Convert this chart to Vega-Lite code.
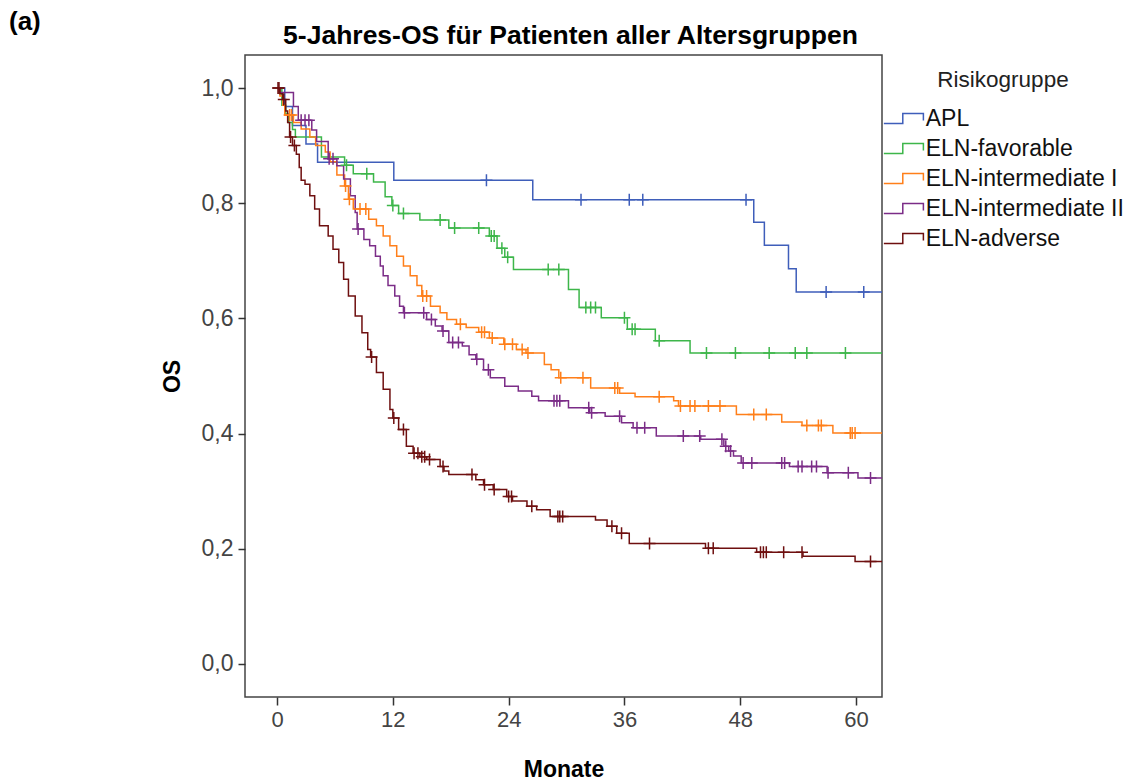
{
"$schema":"https://vega.github.io/schema/vega-lite/v6.json",
"width":637,"height":642,
"autosize":"none",
"padding":{"left":245,"top":55,"right":248,"bottom":87},
"background":"white",
"config":{"view":{"stroke":"#444","strokeWidth":1.5},"font":"Liberation Sans"},
"title":{"text":"(a)","anchor":"start","frame":"group","dx":-236,"dy":17,"fontSize":26,"fontWeight":"bold","color":"#000"},
"data":{"values":[
{"g":"APL","t":0,"s":1,"c":0},{"g":"APL","t":0.8,"s":0.968,"c":0},{"g":"APL","t":1.6,"s":0.935,"c":0},{"g":"APL","t":3.0,"s":0.903,"c":0},{"g":"APL","t":4.2,"s":0.871,"c":0},{"g":"APL","t":12.1,"s":0.84,"c":0},{"g":"APL","t":26.5,"s":0.806,"c":0},{"g":"APL","t":49.4,"s":0.767,"c":0},{"g":"APL","t":50.5,"s":0.727,"c":0},{"g":"APL","t":53.0,"s":0.686,"c":0},{"g":"APL","t":53.8,"s":0.646,"c":0},{"g":"APL","t":62.7,"s":0.646,"c":0},
{"g":"APL","t":21.7,"s":0.84,"c":1},{"g":"APL","t":31.5,"s":0.806,"c":1},{"g":"APL","t":36.5,"s":0.806,"c":1},{"g":"APL","t":37.9,"s":0.806,"c":1},{"g":"APL","t":48.6,"s":0.806,"c":1},{"g":"APL","t":56.9,"s":0.646,"c":1},{"g":"APL","t":60.8,"s":0.646,"c":1},
{"g":"ELN-favorable","t":0,"s":1,"c":0},{"g":"ELN-favorable","t":0.5,"s":0.97,"c":0},{"g":"ELN-favorable","t":0.9,"s":0.955,"c":0},{"g":"ELN-favorable","t":1.2,"s":0.94,"c":0},{"g":"ELN-favorable","t":1.6,"s":0.928,"c":0},{"g":"ELN-favorable","t":1.9,"s":0.915,"c":0},{"g":"ELN-favorable","t":4.6,"s":0.88,"c":0},{"g":"ELN-favorable","t":7.0,"s":0.866,"c":0},{"g":"ELN-favorable","t":7.9,"s":0.851,"c":0},{"g":"ELN-favorable","t":10.0,"s":0.837,"c":0},{"g":"ELN-favorable","t":11.2,"s":0.811,"c":0},{"g":"ELN-favorable","t":11.9,"s":0.796,"c":0},{"g":"ELN-favorable","t":12.6,"s":0.782,"c":0},{"g":"ELN-favorable","t":14.8,"s":0.771,"c":0},{"g":"ELN-favorable","t":17.8,"s":0.757,"c":0},{"g":"ELN-favorable","t":22.0,"s":0.743,"c":0},{"g":"ELN-favorable","t":22.8,"s":0.722,"c":0},{"g":"ELN-favorable","t":23.6,"s":0.706,"c":0},{"g":"ELN-favorable","t":24.5,"s":0.685,"c":0},{"g":"ELN-favorable","t":30.2,"s":0.65,"c":0},{"g":"ELN-favorable","t":31.3,"s":0.619,"c":0},{"g":"ELN-favorable","t":33.6,"s":0.601,"c":0},{"g":"ELN-favorable","t":36.3,"s":0.581,"c":0},{"g":"ELN-favorable","t":39.2,"s":0.561,"c":0},{"g":"ELN-favorable","t":42.8,"s":0.54,"c":0},{"g":"ELN-favorable","t":62.7,"s":0.54,"c":0},
{"g":"ELN-favorable","t":7.2,"s":0.866,"c":1},{"g":"ELN-favorable","t":9.3,"s":0.851,"c":1},{"g":"ELN-favorable","t":12.0,"s":0.796,"c":1},{"g":"ELN-favorable","t":13.1,"s":0.782,"c":1},{"g":"ELN-favorable","t":16.9,"s":0.771,"c":1},{"g":"ELN-favorable","t":18.4,"s":0.757,"c":1},{"g":"ELN-favorable","t":20.9,"s":0.757,"c":1},{"g":"ELN-favorable","t":22.2,"s":0.743,"c":1},{"g":"ELN-favorable","t":22.5,"s":0.743,"c":1},{"g":"ELN-favorable","t":23.3,"s":0.722,"c":1},{"g":"ELN-favorable","t":23.9,"s":0.706,"c":1},{"g":"ELN-favorable","t":28.1,"s":0.685,"c":1},{"g":"ELN-favorable","t":29.2,"s":0.685,"c":1},{"g":"ELN-favorable","t":32.0,"s":0.619,"c":1},{"g":"ELN-favorable","t":32.5,"s":0.619,"c":1},{"g":"ELN-favorable","t":33.0,"s":0.619,"c":1},{"g":"ELN-favorable","t":36.0,"s":0.601,"c":1},{"g":"ELN-favorable","t":36.8,"s":0.581,"c":1},{"g":"ELN-favorable","t":37.1,"s":0.581,"c":1},{"g":"ELN-favorable","t":39.6,"s":0.561,"c":1},{"g":"ELN-favorable","t":44.5,"s":0.54,"c":1},{"g":"ELN-favorable","t":47.5,"s":0.54,"c":1},{"g":"ELN-favorable","t":51.0,"s":0.54,"c":1},{"g":"ELN-favorable","t":53.7,"s":0.54,"c":1},{"g":"ELN-favorable","t":54.9,"s":0.54,"c":1},{"g":"ELN-favorable","t":58.9,"s":0.54,"c":1},
{"g":"ELN-intermediate I","t":0,"s":1,"c":0},{"g":"ELN-intermediate I","t":0.3,"s":0.986,"c":0},{"g":"ELN-intermediate I","t":0.6,"s":0.97,"c":0},{"g":"ELN-intermediate I","t":0.8,"s":0.953,"c":0},{"g":"ELN-intermediate I","t":1.7,"s":0.94,"c":0},{"g":"ELN-intermediate I","t":2.5,"s":0.929,"c":0},{"g":"ELN-intermediate I","t":3.4,"s":0.915,"c":0},{"g":"ELN-intermediate I","t":4.0,"s":0.9,"c":0},{"g":"ELN-intermediate I","t":5.0,"s":0.889,"c":0},{"g":"ELN-intermediate I","t":5.5,"s":0.872,"c":0},{"g":"ELN-intermediate I","t":6.2,"s":0.849,"c":0},{"g":"ELN-intermediate I","t":7.0,"s":0.83,"c":0},{"g":"ELN-intermediate I","t":7.4,"s":0.807,"c":0},{"g":"ELN-intermediate I","t":7.9,"s":0.79,"c":0},{"g":"ELN-intermediate I","t":9.5,"s":0.772,"c":0},{"g":"ELN-intermediate I","t":10.3,"s":0.761,"c":0},{"g":"ELN-intermediate I","t":11.0,"s":0.743,"c":0},{"g":"ELN-intermediate I","t":11.7,"s":0.726,"c":0},{"g":"ELN-intermediate I","t":12.4,"s":0.708,"c":0},{"g":"ELN-intermediate I","t":13.1,"s":0.691,"c":0},{"g":"ELN-intermediate I","t":13.8,"s":0.674,"c":0},{"g":"ELN-intermediate I","t":14.5,"s":0.657,"c":0},{"g":"ELN-intermediate I","t":15.0,"s":0.639,"c":0},{"g":"ELN-intermediate I","t":15.9,"s":0.621,"c":0},{"g":"ELN-intermediate I","t":16.9,"s":0.61,"c":0},{"g":"ELN-intermediate I","t":17.6,"s":0.598,"c":0},{"g":"ELN-intermediate I","t":18.6,"s":0.59,"c":0},{"g":"ELN-intermediate I","t":19.6,"s":0.584,"c":0},{"g":"ELN-intermediate I","t":20.9,"s":0.576,"c":0},{"g":"ELN-intermediate I","t":22.0,"s":0.566,"c":0},{"g":"ELN-intermediate I","t":23.5,"s":0.555,"c":0},{"g":"ELN-intermediate I","t":24.8,"s":0.546,"c":0},{"g":"ELN-intermediate I","t":25.8,"s":0.54,"c":0},{"g":"ELN-intermediate I","t":27.7,"s":0.52,"c":0},{"g":"ELN-intermediate I","t":28.4,"s":0.511,"c":0},{"g":"ELN-intermediate I","t":29.2,"s":0.497,"c":0},{"g":"ELN-intermediate I","t":32.5,"s":0.479,"c":0},{"g":"ELN-intermediate I","t":35.5,"s":0.47,"c":0},{"g":"ELN-intermediate I","t":37.1,"s":0.464,"c":0},{"g":"ELN-intermediate I","t":41.1,"s":0.457,"c":0},{"g":"ELN-intermediate I","t":41.6,"s":0.448,"c":0},{"g":"ELN-intermediate I","t":47.6,"s":0.433,"c":0},{"g":"ELN-intermediate I","t":52.3,"s":0.42,"c":0},{"g":"ELN-intermediate I","t":54.4,"s":0.414,"c":0},{"g":"ELN-intermediate I","t":57.6,"s":0.401,"c":0},{"g":"ELN-intermediate I","t":62.7,"s":0.401,"c":0},
{"g":"ELN-intermediate I","t":1.3,"s":0.953,"c":1},{"g":"ELN-intermediate I","t":1.5,"s":0.953,"c":1},{"g":"ELN-intermediate I","t":7.1,"s":0.83,"c":1},{"g":"ELN-intermediate I","t":7.5,"s":0.807,"c":1},{"g":"ELN-intermediate I","t":8.6,"s":0.79,"c":1},{"g":"ELN-intermediate I","t":9.2,"s":0.79,"c":1},{"g":"ELN-intermediate I","t":15.1,"s":0.639,"c":1},{"g":"ELN-intermediate I","t":15.5,"s":0.639,"c":1},{"g":"ELN-intermediate I","t":19.0,"s":0.59,"c":1},{"g":"ELN-intermediate I","t":21.2,"s":0.576,"c":1},{"g":"ELN-intermediate I","t":21.5,"s":0.576,"c":1},{"g":"ELN-intermediate I","t":22.3,"s":0.566,"c":1},{"g":"ELN-intermediate I","t":23.6,"s":0.555,"c":1},{"g":"ELN-intermediate I","t":24.4,"s":0.555,"c":1},{"g":"ELN-intermediate I","t":25.4,"s":0.546,"c":1},{"g":"ELN-intermediate I","t":26.0,"s":0.54,"c":1},{"g":"ELN-intermediate I","t":29.4,"s":0.497,"c":1},{"g":"ELN-intermediate I","t":31.7,"s":0.497,"c":1},{"g":"ELN-intermediate I","t":35.0,"s":0.479,"c":1},{"g":"ELN-intermediate I","t":35.3,"s":0.479,"c":1},{"g":"ELN-intermediate I","t":39.6,"s":0.464,"c":1},{"g":"ELN-intermediate I","t":41.8,"s":0.448,"c":1},{"g":"ELN-intermediate I","t":42.8,"s":0.448,"c":1},{"g":"ELN-intermediate I","t":43.3,"s":0.448,"c":1},{"g":"ELN-intermediate I","t":44.7,"s":0.448,"c":1},{"g":"ELN-intermediate I","t":45.9,"s":0.448,"c":1},{"g":"ELN-intermediate I","t":49.4,"s":0.433,"c":1},{"g":"ELN-intermediate I","t":50.7,"s":0.433,"c":1},{"g":"ELN-intermediate I","t":54.9,"s":0.414,"c":1},{"g":"ELN-intermediate I","t":56.1,"s":0.414,"c":1},{"g":"ELN-intermediate I","t":56.4,"s":0.414,"c":1},{"g":"ELN-intermediate I","t":59.4,"s":0.401,"c":1},{"g":"ELN-intermediate I","t":59.6,"s":0.401,"c":1},{"g":"ELN-intermediate I","t":59.9,"s":0.401,"c":1},
{"g":"ELN-intermediate II","t":0,"s":1,"c":0},{"g":"ELN-intermediate II","t":0.3,"s":0.992,"c":0},{"g":"ELN-intermediate II","t":1.7,"s":0.968,"c":0},{"g":"ELN-intermediate II","t":2.2,"s":0.944,"c":0},{"g":"ELN-intermediate II","t":3.6,"s":0.927,"c":0},{"g":"ELN-intermediate II","t":4.1,"s":0.907,"c":0},{"g":"ELN-intermediate II","t":5.3,"s":0.877,"c":0},{"g":"ELN-intermediate II","t":6.2,"s":0.865,"c":0},{"g":"ELN-intermediate II","t":6.9,"s":0.842,"c":0},{"g":"ELN-intermediate II","t":7.6,"s":0.813,"c":0},{"g":"ELN-intermediate II","t":8.1,"s":0.784,"c":0},{"g":"ELN-intermediate II","t":8.3,"s":0.755,"c":0},{"g":"ELN-intermediate II","t":9.0,"s":0.737,"c":0},{"g":"ELN-intermediate II","t":9.6,"s":0.726,"c":0},{"g":"ELN-intermediate II","t":10.2,"s":0.708,"c":0},{"g":"ELN-intermediate II","t":10.7,"s":0.691,"c":0},{"g":"ELN-intermediate II","t":11.0,"s":0.674,"c":0},{"g":"ELN-intermediate II","t":11.5,"s":0.657,"c":0},{"g":"ELN-intermediate II","t":12.2,"s":0.639,"c":0},{"g":"ELN-intermediate II","t":12.7,"s":0.621,"c":0},{"g":"ELN-intermediate II","t":13.1,"s":0.61,"c":0},{"g":"ELN-intermediate II","t":15.5,"s":0.598,"c":0},{"g":"ELN-intermediate II","t":16.4,"s":0.587,"c":0},{"g":"ELN-intermediate II","t":17.1,"s":0.578,"c":0},{"g":"ELN-intermediate II","t":17.8,"s":0.558,"c":0},{"g":"ELN-intermediate II","t":19.2,"s":0.552,"c":0},{"g":"ELN-intermediate II","t":19.9,"s":0.537,"c":0},{"g":"ELN-intermediate II","t":20.6,"s":0.529,"c":0},{"g":"ELN-intermediate II","t":21.4,"s":0.511,"c":0},{"g":"ELN-intermediate II","t":22.1,"s":0.497,"c":0},{"g":"ELN-intermediate II","t":23.6,"s":0.482,"c":0},{"g":"ELN-intermediate II","t":25.0,"s":0.474,"c":0},{"g":"ELN-intermediate II","t":26.4,"s":0.465,"c":0},{"g":"ELN-intermediate II","t":27.1,"s":0.457,"c":0},{"g":"ELN-intermediate II","t":30.2,"s":0.445,"c":0},{"g":"ELN-intermediate II","t":32.4,"s":0.436,"c":0},{"g":"ELN-intermediate II","t":34.0,"s":0.43,"c":0},{"g":"ELN-intermediate II","t":35.7,"s":0.419,"c":0},{"g":"ELN-intermediate II","t":36.9,"s":0.41,"c":0},{"g":"ELN-intermediate II","t":39.3,"s":0.396,"c":0},{"g":"ELN-intermediate II","t":43.9,"s":0.39,"c":0},{"g":"ELN-intermediate II","t":46.3,"s":0.378,"c":0},{"g":"ELN-intermediate II","t":46.8,"s":0.37,"c":0},{"g":"ELN-intermediate II","t":47.3,"s":0.361,"c":0},{"g":"ELN-intermediate II","t":48.1,"s":0.349,"c":0},{"g":"ELN-intermediate II","t":53.1,"s":0.343,"c":0},{"g":"ELN-intermediate II","t":57.0,"s":0.332,"c":0},{"g":"ELN-intermediate II","t":60.2,"s":0.323,"c":0},{"g":"ELN-intermediate II","t":62.7,"s":0.323,"c":0},
{"g":"ELN-intermediate II","t":2.5,"s":0.944,"c":1},{"g":"ELN-intermediate II","t":2.9,"s":0.944,"c":1},{"g":"ELN-intermediate II","t":3.3,"s":0.944,"c":1},{"g":"ELN-intermediate II","t":5.4,"s":0.877,"c":1},{"g":"ELN-intermediate II","t":5.8,"s":0.877,"c":1},{"g":"ELN-intermediate II","t":8.4,"s":0.755,"c":1},{"g":"ELN-intermediate II","t":13.2,"s":0.61,"c":1},{"g":"ELN-intermediate II","t":15.2,"s":0.61,"c":1},{"g":"ELN-intermediate II","t":16.0,"s":0.598,"c":1},{"g":"ELN-intermediate II","t":17.2,"s":0.578,"c":1},{"g":"ELN-intermediate II","t":18.2,"s":0.558,"c":1},{"g":"ELN-intermediate II","t":18.8,"s":0.558,"c":1},{"g":"ELN-intermediate II","t":20.7,"s":0.529,"c":1},{"g":"ELN-intermediate II","t":21.9,"s":0.511,"c":1},{"g":"ELN-intermediate II","t":28.7,"s":0.457,"c":1},{"g":"ELN-intermediate II","t":29.0,"s":0.457,"c":1},{"g":"ELN-intermediate II","t":29.3,"s":0.457,"c":1},{"g":"ELN-intermediate II","t":32.3,"s":0.445,"c":1},{"g":"ELN-intermediate II","t":32.6,"s":0.436,"c":1},{"g":"ELN-intermediate II","t":35.5,"s":0.43,"c":1},{"g":"ELN-intermediate II","t":37.3,"s":0.41,"c":1},{"g":"ELN-intermediate II","t":38.1,"s":0.41,"c":1},{"g":"ELN-intermediate II","t":42.1,"s":0.396,"c":1},{"g":"ELN-intermediate II","t":43.8,"s":0.396,"c":1},{"g":"ELN-intermediate II","t":46.1,"s":0.39,"c":1},{"g":"ELN-intermediate II","t":46.5,"s":0.378,"c":1},{"g":"ELN-intermediate II","t":47.0,"s":0.37,"c":1},{"g":"ELN-intermediate II","t":48.3,"s":0.349,"c":1},{"g":"ELN-intermediate II","t":49.2,"s":0.349,"c":1},{"g":"ELN-intermediate II","t":52.3,"s":0.349,"c":1},{"g":"ELN-intermediate II","t":52.6,"s":0.349,"c":1},{"g":"ELN-intermediate II","t":54.0,"s":0.343,"c":1},{"g":"ELN-intermediate II","t":54.4,"s":0.343,"c":1},{"g":"ELN-intermediate II","t":55.4,"s":0.343,"c":1},{"g":"ELN-intermediate II","t":55.9,"s":0.343,"c":1},{"g":"ELN-intermediate II","t":57.1,"s":0.332,"c":1},{"g":"ELN-intermediate II","t":59.2,"s":0.332,"c":1},{"g":"ELN-intermediate II","t":61.5,"s":0.323,"c":1},
{"g":"ELN-adverse","t":0,"s":1,"c":0},{"g":"ELN-adverse","t":0.3,"s":0.99,"c":0},{"g":"ELN-adverse","t":0.6,"s":0.98,"c":0},{"g":"ELN-adverse","t":0.9,"s":0.96,"c":0},{"g":"ELN-adverse","t":1.1,"s":0.94,"c":0},{"g":"ELN-adverse","t":1.3,"s":0.915,"c":0},{"g":"ELN-adverse","t":1.6,"s":0.9,"c":0},{"g":"ELN-adverse","t":2.0,"s":0.885,"c":0},{"g":"ELN-adverse","t":2.3,"s":0.862,"c":0},{"g":"ELN-adverse","t":2.5,"s":0.84,"c":0},{"g":"ELN-adverse","t":2.9,"s":0.833,"c":0},{"g":"ELN-adverse","t":3.4,"s":0.813,"c":0},{"g":"ELN-adverse","t":3.9,"s":0.79,"c":0},{"g":"ELN-adverse","t":4.4,"s":0.761,"c":0},{"g":"ELN-adverse","t":5.3,"s":0.743,"c":0},{"g":"ELN-adverse","t":5.8,"s":0.72,"c":0},{"g":"ELN-adverse","t":6.4,"s":0.697,"c":0},{"g":"ELN-adverse","t":6.9,"s":0.668,"c":0},{"g":"ELN-adverse","t":7.4,"s":0.639,"c":0},{"g":"ELN-adverse","t":8.1,"s":0.604,"c":0},{"g":"ELN-adverse","t":8.8,"s":0.575,"c":0},{"g":"ELN-adverse","t":9.4,"s":0.546,"c":0},{"g":"ELN-adverse","t":9.7,"s":0.533,"c":0},{"g":"ELN-adverse","t":10.3,"s":0.506,"c":0},{"g":"ELN-adverse","t":11.0,"s":0.477,"c":0},{"g":"ELN-adverse","t":11.7,"s":0.442,"c":0},{"g":"ELN-adverse","t":12.0,"s":0.427,"c":0},{"g":"ELN-adverse","t":12.6,"s":0.407,"c":0},{"g":"ELN-adverse","t":13.4,"s":0.378,"c":0},{"g":"ELN-adverse","t":14.1,"s":0.366,"c":0},{"g":"ELN-adverse","t":14.8,"s":0.36,"c":0},{"g":"ELN-adverse","t":15.5,"s":0.355,"c":0},{"g":"ELN-adverse","t":16.9,"s":0.343,"c":0},{"g":"ELN-adverse","t":17.3,"s":0.335,"c":0},{"g":"ELN-adverse","t":17.8,"s":0.329,"c":0},{"g":"ELN-adverse","t":20.6,"s":0.32,"c":0},{"g":"ELN-adverse","t":21.4,"s":0.311,"c":0},{"g":"ELN-adverse","t":22.4,"s":0.303,"c":0},{"g":"ELN-adverse","t":23.8,"s":0.291,"c":0},{"g":"ELN-adverse","t":24.4,"s":0.283,"c":0},{"g":"ELN-adverse","t":25.9,"s":0.274,"c":0},{"g":"ELN-adverse","t":26.9,"s":0.268,"c":0},{"g":"ELN-adverse","t":28.3,"s":0.256,"c":0},{"g":"ELN-adverse","t":33.0,"s":0.25,"c":0},{"g":"ELN-adverse","t":34.2,"s":0.239,"c":0},{"g":"ELN-adverse","t":35.2,"s":0.227,"c":0},{"g":"ELN-adverse","t":36.5,"s":0.209,"c":0},{"g":"ELN-adverse","t":44.4,"s":0.201,"c":0},{"g":"ELN-adverse","t":49.7,"s":0.194,"c":0},{"g":"ELN-adverse","t":54.5,"s":0.187,"c":0},{"g":"ELN-adverse","t":59.9,"s":0.178,"c":0},{"g":"ELN-adverse","t":62.7,"s":0.178,"c":0},
{"g":"ELN-adverse","t":0.1,"s":1,"c":1},{"g":"ELN-adverse","t":0.2,"s":1,"c":1},{"g":"ELN-adverse","t":0.7,"s":0.98,"c":1},{"g":"ELN-adverse","t":1.4,"s":0.915,"c":1},{"g":"ELN-adverse","t":1.8,"s":0.9,"c":1},{"g":"ELN-adverse","t":9.8,"s":0.533,"c":1},{"g":"ELN-adverse","t":12.1,"s":0.427,"c":1},{"g":"ELN-adverse","t":13.1,"s":0.407,"c":1},{"g":"ELN-adverse","t":14.2,"s":0.366,"c":1},{"g":"ELN-adverse","t":14.6,"s":0.366,"c":1},{"g":"ELN-adverse","t":15.0,"s":0.36,"c":1},{"g":"ELN-adverse","t":15.3,"s":0.36,"c":1},{"g":"ELN-adverse","t":15.8,"s":0.355,"c":1},{"g":"ELN-adverse","t":17.2,"s":0.343,"c":1},{"g":"ELN-adverse","t":20.2,"s":0.329,"c":1},{"g":"ELN-adverse","t":21.5,"s":0.311,"c":1},{"g":"ELN-adverse","t":22.5,"s":0.303,"c":1},{"g":"ELN-adverse","t":24.0,"s":0.291,"c":1},{"g":"ELN-adverse","t":24.3,"s":0.291,"c":1},{"g":"ELN-adverse","t":26.4,"s":0.274,"c":1},{"g":"ELN-adverse","t":29.1,"s":0.256,"c":1},{"g":"ELN-adverse","t":29.3,"s":0.256,"c":1},{"g":"ELN-adverse","t":29.6,"s":0.256,"c":1},{"g":"ELN-adverse","t":34.7,"s":0.239,"c":1},{"g":"ELN-adverse","t":35.7,"s":0.227,"c":1},{"g":"ELN-adverse","t":38.6,"s":0.209,"c":1},{"g":"ELN-adverse","t":44.7,"s":0.201,"c":1},{"g":"ELN-adverse","t":45.2,"s":0.201,"c":1},{"g":"ELN-adverse","t":50.1,"s":0.194,"c":1},{"g":"ELN-adverse","t":50.4,"s":0.194,"c":1},{"g":"ELN-adverse","t":50.7,"s":0.194,"c":1},{"g":"ELN-adverse","t":52.5,"s":0.194,"c":1},{"g":"ELN-adverse","t":54.4,"s":0.194,"c":1},{"g":"ELN-adverse","t":61.5,"s":0.178,"c":1}
]},
"resolve":{"axis":{"x":"independent"}},
"layer":[
{"transform":[{"filter":"datum.c == 0"}],
 "mark":{"type":"line","interpolate":"step-after","strokeWidth":1.5,"clip":true},
 "encoding":{
  "x":{"field":"t","type":"quantitative","scale":{"domain":[-3.32,62.69],"nice":false,"zero":false},
   "axis":{"values":[0,12,24,36,48,60],"title":"Monate","grid":false,"domain":false,"tickSize":8,"tickWidth":1.5,"tickColor":"#333","labelFontSize":22,"labelColor":"#444","labelPadding":4,"titleFontSize":23,"titleFontWeight":"bold","titleColor":"#000","titlePadding":28}},
  "y":{"field":"s","type":"quantitative","scale":{"domain":[-0.0573,1.0573],"nice":false,"zero":false},
   "axis":{"values":[0,0.2,0.4,0.6,0.8,1.0],"labelExpr":"replace(format(datum.value,'.1f'),'.',',')","title":"OS","grid":false,"domain":false,"tickSize":7,"tickWidth":1.5,"tickColor":"#333","labelFontSize":23,"labelColor":"#444","labelPadding":5,"titleFontSize":23,"titleFontWeight":"bold","titleColor":"#000","titlePadding":17}},
  "color":{"field":"g","type":"nominal","scale":{"domain":["APL","ELN-favorable","ELN-intermediate I","ELN-intermediate II","ELN-adverse"],"range":["#3F5EBA","#3DB64A","#FF7F1A","#7B2C87","#6E0F0F"]},
   "legend":{"title":"Risikogruppe","orient":"none","legendX":638,"legendY":14,"titleFontSize":22.5,"titleFontWeight":"normal","titleColor":"#222","titleAnchor":"middle","titlePadding":11,"labelFontSize":23,"labelColor":"#111","labelLimit":0,"symbolType":"M-1.32,0.33L-0.07,0.33L-0.07,-0.33L1.29,-0.33L1.29,0.13","symbolSize":918,"symbolStrokeWidth":1.5,"symbolFillColor":"transparent","symbolOffset":4.85,"labelOffset":5.85}}
 }},
{"transform":[{"filter":"datum.c == 1"}],
 "mark":{"type":"point","shape":"M-1,0L1,0M0,-1L0,1","size":144,"filled":false,"strokeWidth":1.5,"opacity":1,"clip":true},
 "encoding":{
  "x":{"field":"t","type":"quantitative","axis":{"orient":"top","title":"5-Jahres-OS für Patienten aller Altersgruppen","labels":false,"ticks":false,"domain":false,"grid":false,"titleFontSize":26.5,"titleFontWeight":"bold","titleColor":"#000","titlePadding":6,"titleX":325}},
  "y":{"field":"s","type":"quantitative","axis":{"values":[0,0.2,0.4,0.6,0.8,1.0],"labelExpr":"replace(format(datum.value,'.1f'),'.',',')","title":"OS","grid":false,"domain":false,"tickSize":7,"tickWidth":1.5,"tickColor":"#333","labelFontSize":23,"labelColor":"#444","labelPadding":5,"titleFontSize":23,"titleFontWeight":"bold","titleColor":"#000","titlePadding":17}},
  "color":{"field":"g","type":"nominal","legend":null}
 }}
]
}
